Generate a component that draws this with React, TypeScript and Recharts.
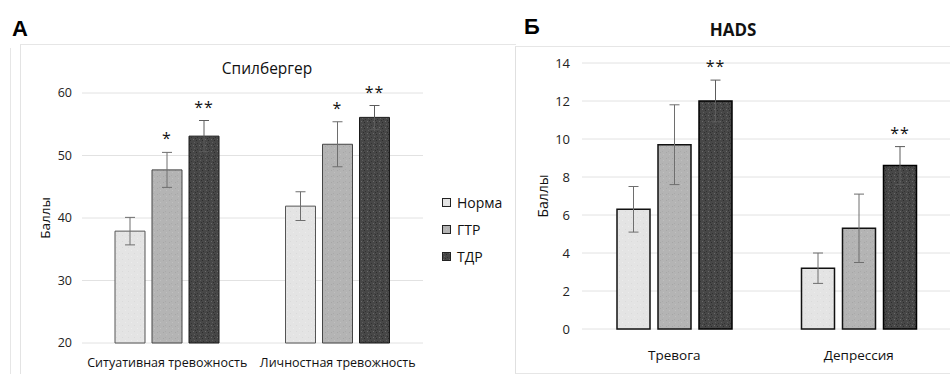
import React from 'react';
import { BarChart, Bar, XAxis, YAxis, CartesianGrid, ErrorBar, LabelList, Legend } from 'recharts';

// ---------- data ----------
const seriesNames = ['Норма', 'ГТР', 'ТДР'];

const categoriesA = ['Ситуативная тревожность', 'Личностная тревожность'];
const normA = [37.9, 41.9];
const normAErr = [2.2, 2.3];
const gtrA = [47.7, 51.8];
const gtrAErr = [2.8, 3.6];
const tdrA = [53.1, 56.1];
const tdrAErr = [2.5, 1.9];
const normASig = ['', ''];
const gtrASig = ['*', '*'];
const tdrASig = ['**', '**'];
const ticksA = [20, 30, 40, 50, 60];

const categoriesB = ['Тревога', 'Депрессия'];
const normB = [6.3, 3.2];
const normBErr = [1.2, 0.8];
const gtrB = [9.7, 5.3];
const gtrBErr = [2.1, 1.8];
const tdrB = [12.0, 8.6];
const tdrBErr = [1.1, 1.0];
const normBSig = ['', ''];
const gtrBSig = ['', ''];
const tdrBSig = ['**', '**'];
const ticksB = [0, 2, 4, 6, 8, 10, 12, 14];

const titleA = 'Спилбергер';
const titleB = 'HADS';
const yLabel = 'Баллы';

// ---------- build rows ----------
const rowsA = categoriesA.map((c, i) => ({
  cat: c,
  norm: normA[i], normErr: normAErr[i], normSig: normASig[i],
  gtr: gtrA[i], gtrErr: gtrAErr[i], gtrSig: gtrASig[i],
  tdr: tdrA[i], tdrErr: tdrAErr[i], tdrSig: tdrASig[i],
}));
const rowsB = categoriesB.map((c, i) => ({
  cat: c,
  norm: normB[i], normErr: normBErr[i], normSig: normBSig[i],
  gtr: gtrB[i], gtrErr: gtrBErr[i], gtrSig: gtrBSig[i],
  tdr: tdrB[i], tdrErr: tdrBErr[i], tdrSig: tdrBSig[i],
}));

const FONT = '"Open Sans", "Noto Sans", sans-serif';
const fills = ['url(#texLight)', 'url(#texMid)', 'url(#texDark)'];
const errColors = ['#6e6e6e', '#6e6e6e', '#5c5c5c'];

const makeSig = (vals: number[], errs: number[], base: number) => (props: any) => {
  const vb = props.viewBox || props;
  const { x, y, width, height } = vb;
  const index = props.index;
  const value = props.value;
  if (!value || index == null) return null;
  const v = vals[index];
  const e = errs[index];
  const ppu = height / (v - base);
  const errTop = y - e * ppu;
  return (
    <text
      x={x + width / 2}
      y={errTop - 8}
      textAnchor="middle"
      fontSize={16}
      fontFamily={FONT}
      fill="#111"
      letterSpacing={1}
    >
      {value}
    </text>
  );
};

const renderLegend = (props: any) => {
  const payload = [...(props.payload || [])].sort(
    (a: any, b: any) => seriesNames.indexOf(a.value) - seriesNames.indexOf(b.value)
  );
  return (
    <div style={{ fontFamily: FONT, fontSize: 14, color: '#111' }}>
      {payload.map((p: any, i: number) => (
        <div key={i} style={{ height: 27, lineHeight: '27px', display: 'flex', alignItems: 'center' }}>
          <svg width={10} height={10} style={{ marginRight: 5 }}>
            <rect x={0.5} y={0.5} width={8} height={8} fill={fills[seriesNames.indexOf(p.value)]} stroke="#222" strokeWidth={1} />
          </svg>
          <span>{p.value}</span>
        </div>
      ))}
    </div>
  );
};

const Patterns = () => (
  <svg width={0} height={0} style={{ position: 'absolute' }}>
    <defs>
      <pattern id="texDark" width={6} height={6} patternUnits="userSpaceOnUse">
        <rect width={6} height={6} fill="#474747" />
        <rect x={1} y={1} width={1} height={1} fill="#6a6a6a" />
        <rect x={4} y={2} width={1} height={1} fill="#2c2c2c" />
        <rect x={2} y={4} width={1} height={1} fill="#5e5e5e" />
        <rect x={5} y={5} width={1} height={1} fill="#333" />
        <rect x={3} y={0} width={1} height={1} fill="#303030" />
      </pattern>
      <pattern id="texMid" width={6} height={6} patternUnits="userSpaceOnUse">
        <rect width={6} height={6} fill="#b4b4b4" />
        <rect x={1} y={2} width={1} height={1} fill="#a6a6a6" />
        <rect x={4} y={4} width={1} height={1} fill="#c0c0c0" />
        <rect x={3} y={1} width={1} height={1} fill="#aaaaaa" />
      </pattern>
      <pattern id="texLight" width={6} height={6} patternUnits="userSpaceOnUse">
        <rect width={6} height={6} fill="#e4e4e4" />
        <rect x={2} y={1} width={1} height={1} fill="#dadada" />
        <rect x={5} y={4} width={1} height={1} fill="#ececec" />
      </pattern>
    </defs>
  </svg>
);

export default function App() {
  const keys = ['norm', 'gtr', 'tdr'];
  const valsA = [normA, gtrA, tdrA];
  const errsA = [normAErr, gtrAErr, tdrAErr];
  const valsB = [normB, gtrB, tdrB];
  const errsB = [normBErr, gtrBErr, tdrBErr];
  const strokesA = ['#555', '#444', '#1a1a1a'];
  const strokesB = ['#111', '#111', '#000'];

  return (
    <div style={{ position: 'absolute', left: 0, top: 0, width: 950, height: 374, overflow: 'hidden', background: '#fff', fontFamily: FONT }}>
      <Patterns />
      {/* panel frames */}
      <div style={{ position: 'absolute', left: 10, top: 48, width: 0, height: 330, borderLeft: '1px solid #e6e6e6' }} />
      <div style={{ position: 'absolute', left: 20, top: 44, width: 495, height: 340, borderLeft: '1px solid #e3e3e3', borderTop: '1px solid #e6e6e6' }} />
      <div style={{ position: 'absolute', left: 515, top: 46, width: 440, height: 326, borderLeft: '1px solid #e0e0e0', borderTop: '1px solid #e6e6e6', borderBottom: '1px solid #e6e6e6' }} />

      {/* panel letters & titles */}
      <div style={{ position: 'absolute', left: 12, top: 16, fontFamily: 'Arial, "Liberation Sans", sans-serif', fontWeight: 700, fontSize: 22, color: '#000', lineHeight: '26px' }}>А</div>
      <div style={{ position: 'absolute', left: 524, top: 14, fontFamily: 'Arial, "Liberation Sans", sans-serif', fontWeight: 700, fontSize: 22, color: '#000', lineHeight: '26px' }}>Б</div>
      <div style={{ position: 'absolute', left: 167, width: 200, top: 57, textAlign: 'center', fontSize: 15.5, color: '#111', lineHeight: '22px' }}>{titleA}</div>
      <div style={{ position: 'absolute', left: 633, width: 200, top: 18, textAlign: 'center', fontSize: 17, fontWeight: 700, color: '#111', lineHeight: '24px' }}>{titleB}</div>

      {/* Chart A */}
      <div style={{ position: 'absolute', left: 0, top: 0 }}>
        <BarChart
          width={510}
          height={374}
          data={rowsA}
          margin={{ top: 93, right: 17, bottom: 1, left: 32 }}
          barGap={7}
          barSize={30}
        >
          <CartesianGrid vertical={false} stroke="#e2e2e2" strokeWidth={1} />
          <XAxis
            dataKey="cat"
            axisLine={false}
            tickLine={false}
            height={30}
            tickMargin={9}
            interval={0}
            tick={{ fontSize: 12.5, fill: '#111', fontFamily: FONT }}
          />
          <YAxis
            domain={[20, 60]}
            ticks={ticksA}
            width={50}
            axisLine={false}
            tickLine={false}
            tickMargin={4}
            tick={{ fontSize: 12.5, fill: '#222', fontFamily: FONT }}
            label={{ value: yLabel, angle: -90, position: 'insideLeft', offset: 13, style: { textAnchor: 'middle', fontSize: 13.5, fill: '#111', fontFamily: FONT } }}
          />
          <Legend
            layout="vertical"
            align="right"
            verticalAlign="middle"
            width={70}
            wrapperStyle={{ left: 442, top: 189, right: 'auto' }}
            content={renderLegend}
          />
          {keys.map((k, i) => (
            <Bar
              key={k}
              dataKey={k}
              name={seriesNames[i]}
              fill={fills[i]}
              stroke={strokesA[i]}
              strokeWidth={1}
              isAnimationActive={false}
            >
              <ErrorBar dataKey={k + 'Err'} width={5} stroke={errColors[i]} strokeWidth={1} isAnimationActive={false} />
              <LabelList dataKey={k + 'Sig'} content={makeSig(valsA[i], errsA[i], 20)} />
            </Bar>
          ))}
        </BarChart>
      </div>

      {/* Chart B */}
      <div style={{ position: 'absolute', left: 515, top: 0 }}>
        <BarChart
          width={437}
          height={374}
          data={rowsB}
          margin={{ top: 63, right: 1, bottom: 15, left: 27 }}
          barGap={8}
          barSize={33}
        >
          <CartesianGrid vertical={false} stroke="#e2e2e2" strokeWidth={1} />
          <XAxis
            dataKey="cat"
            axisLine={false}
            tickLine={false}
            height={30}
            tickMargin={15}
            interval={0}
            tick={{ fontSize: 13.5, fill: '#111', fontFamily: FONT }}
          />
          <YAxis
            domain={[0, 14]}
            ticks={ticksB}
            width={40}
            axisLine={false}
            tickLine={false}
            tickMargin={6}
            tick={{ fontSize: 13, fill: '#222', fontFamily: FONT }}
            label={{ value: yLabel, angle: -90, position: 'insideLeft', offset: 1, style: { textAnchor: 'middle', fontSize: 14, fill: '#111', fontFamily: FONT } }}
          />
          {keys.map((k, i) => (
            <Bar
              key={k}
              dataKey={k}
              name={seriesNames[i]}
              fill={fills[i]}
              stroke={strokesB[i]}
              strokeWidth={1.5}
              isAnimationActive={false}
            >
              <ErrorBar dataKey={k + 'Err'} width={5} stroke={errColors[i]} strokeWidth={1} isAnimationActive={false} />
              <LabelList dataKey={k + 'Sig'} content={makeSig(valsB[i], errsB[i], 0)} />
            </Bar>
          ))}
        </BarChart>
      </div>
    </div>
  );
}
